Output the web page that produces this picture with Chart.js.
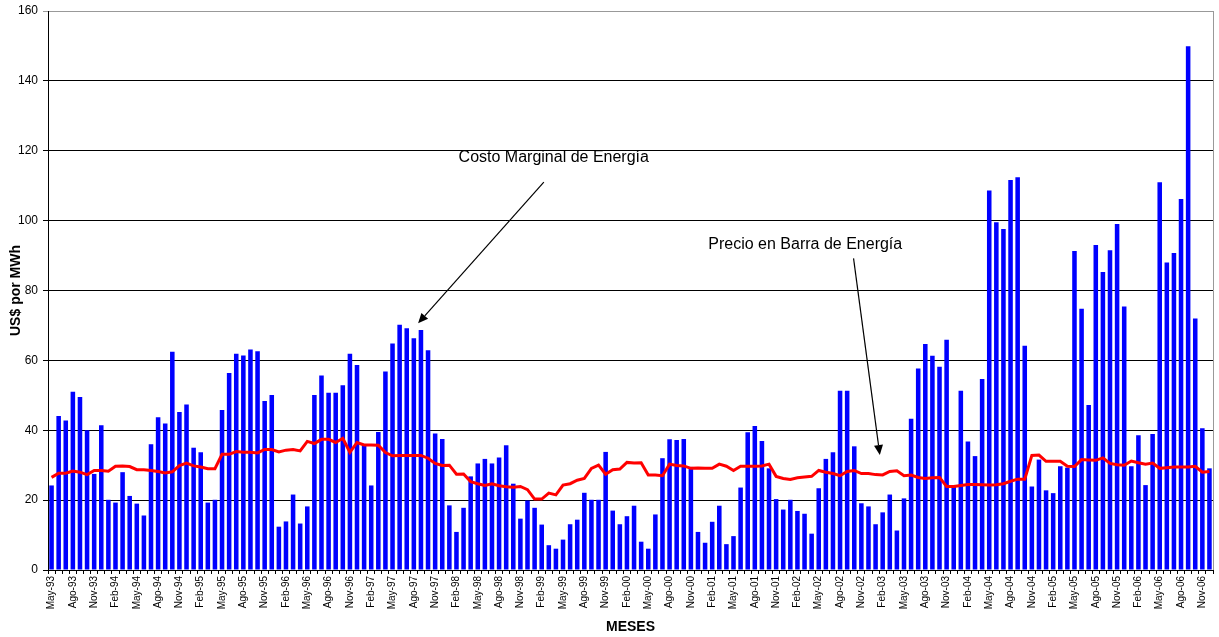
<!DOCTYPE html>
<html>
<head>
<meta charset="utf-8">
<script src="https://cdn.jsdelivr.net/npm/chart.js@4.4.1/dist/chart.umd.min.js"></script>
<style>
    html, body { margin: 0; padding: 0; background: #fff; }
    #wrap { width: 1219px; height: 637px; }
</style>
</head>
<body>
<div id="wrap"><canvas id="grafico" width="1219" height="637"></canvas></div>
<script>
// meses, May-93 a Dic-06
const meses = [
    'May-93','Jun-93','Jul-93','Ago-93','Sep-93','Oct-93','Nov-93','Dic-93',
    'Ene-94','Feb-94','Mar-94','Abr-94','May-94','Jun-94','Jul-94','Ago-94','Sep-94','Oct-94','Nov-94','Dic-94',
    'Ene-95','Feb-95','Mar-95','Abr-95','May-95','Jun-95','Jul-95','Ago-95','Sep-95','Oct-95','Nov-95','Dic-95',
    'Ene-96','Feb-96','Mar-96','Abr-96','May-96','Jun-96','Jul-96','Ago-96','Sep-96','Oct-96','Nov-96','Dic-96',
    'Ene-97','Feb-97','Mar-97','Abr-97','May-97','Jun-97','Jul-97','Ago-97','Sep-97','Oct-97','Nov-97','Dic-97',
    'Ene-98','Feb-98','Mar-98','Abr-98','May-98','Jun-98','Jul-98','Ago-98','Sep-98','Oct-98','Nov-98','Dic-98',
    'Ene-99','Feb-99','Mar-99','Abr-99','May-99','Jun-99','Jul-99','Ago-99','Sep-99','Oct-99','Nov-99','Dic-99',
    'Ene-00','Feb-00','Mar-00','Abr-00','May-00','Jun-00','Jul-00','Ago-00','Sep-00','Oct-00','Nov-00','Dic-00',
    'Ene-01','Feb-01','Mar-01','Abr-01','May-01','Jun-01','Jul-01','Ago-01','Sep-01','Oct-01','Nov-01','Dic-01',
    'Ene-02','Feb-02','Mar-02','Abr-02','May-02','Jun-02','Jul-02','Ago-02','Sep-02','Oct-02','Nov-02','Dic-02',
    'Ene-03','Feb-03','Mar-03','Abr-03','May-03','Jun-03','Jul-03','Ago-03','Sep-03','Oct-03','Nov-03','Dic-03',
    'Ene-04','Feb-04','Mar-04','Abr-04','May-04','Jun-04','Jul-04','Ago-04','Sep-04','Oct-04','Nov-04','Dic-04',
    'Ene-05','Feb-05','Mar-05','Abr-05','May-05','Jun-05','Jul-05','Ago-05','Sep-05','Oct-05','Nov-05','Dic-05',
    'Ene-06','Feb-06','Mar-06','Abr-06','May-06','Jun-06','Jul-06','Ago-06','Sep-06','Oct-06','Nov-06','Dic-06'
];

// Costo Marginal de Energia (barras), US$/MWh
const costoMarginal = [
    24.2, 44.1, 42.8, 51.0, 49.5, 40.0, 27.5, 41.4, 20.1, 19.3,
    28.0, 21.2, 19.0, 15.6, 36.0, 43.7, 41.9, 62.5, 45.2, 47.4,
    35.0, 33.7, 19.3, 20.1, 45.8, 56.4, 61.9, 61.4, 63.1, 62.6,
    48.4, 50.1, 12.4, 13.9, 21.6, 13.3, 18.2, 50.1, 55.7, 50.7,
    50.7, 52.9, 61.9, 58.7, 36.0, 24.2, 39.5, 56.8, 64.8, 70.2,
    69.2, 66.3, 68.7, 62.9, 39.1, 37.5, 18.5, 10.9, 17.8, 26.8,
    30.5, 31.8, 30.5, 32.2, 35.7, 24.7, 14.7, 19.9, 17.8, 13.0,
    7.1, 6.1, 8.7, 13.1, 14.4, 22.1, 20.1, 20.1, 33.8, 17.0,
    13.1, 15.4, 18.4, 8.1, 6.1, 15.9, 32.0, 37.4, 37.2, 37.5,
    29.5, 10.9, 7.8, 13.8, 18.4, 7.4, 9.7, 23.6, 39.4, 41.2,
    36.9, 29.1, 20.3, 17.3, 20.1, 16.9, 16.1, 10.4, 23.4, 31.8,
    33.7, 51.3, 51.3, 35.4, 19.1, 18.2, 13.1, 16.5, 21.6, 11.3,
    20.5, 43.3, 57.7, 64.7, 61.3, 58.2, 65.9, 23.9, 51.3, 36.8,
    32.6, 54.7, 108.6, 99.5, 97.6, 111.6, 112.4, 64.2, 23.9, 31.6,
    22.8, 22.0, 29.7, 29.3, 91.3, 74.8, 47.2, 93.0, 85.3, 91.5,
    99.0, 75.4, 29.7, 38.6, 24.3, 38.9, 111.0, 88.0, 90.7, 106.2,
    149.9, 72.0, 40.6, 29.1
];

// Precio en Barra de Energia (linea), US$/MWh
const precioBarra = [
    26.5, 27.7, 27.7, 28.3, 28.0, 27.3, 28.5, 28.5, 28.3, 29.7,
    29.8, 29.6, 28.7, 28.7, 28.5, 28.2, 27.8, 28.1, 29.9, 30.6,
    29.8, 29.5, 29.0, 29.0, 33.1, 33.1, 33.9, 33.7, 33.7, 33.5,
    34.5, 34.5, 33.8, 34.3, 34.5, 34.1, 36.8, 36.2, 37.4, 37.4,
    36.5, 37.7, 33.7, 36.5, 35.8, 35.8, 35.7, 33.6, 32.7, 32.8,
    32.8, 32.8, 32.8, 32.0, 30.5, 29.9, 30.0, 27.4, 27.5, 25.3,
    24.7, 24.2, 24.7, 24.1, 23.8, 23.7, 23.9, 23.0, 20.3, 20.3,
    22.0, 21.5, 24.3, 24.7, 25.7, 26.2, 29.1, 30.0, 27.4, 28.7,
    28.9, 30.8, 30.6, 30.7, 27.2, 27.2, 27.0, 30.3, 29.9, 29.8,
    29.1, 29.2, 29.1, 29.1, 30.3, 29.7, 28.5, 29.7, 29.7, 29.7,
    29.8, 30.3, 26.8, 26.2, 25.9, 26.4, 26.6, 26.8, 28.5, 28.0,
    27.6, 27.0, 28.2, 28.5, 27.6, 27.6, 27.3, 27.2, 28.2, 28.4,
    27.0, 27.2, 26.5, 26.2, 26.4, 26.5, 23.9, 23.9, 24.2, 24.5,
    24.5, 24.4, 24.3, 24.4, 24.7, 25.4, 26.0, 26.0, 32.8, 32.9,
    31.1, 31.1, 31.1, 29.7, 29.6, 31.6, 31.5, 31.4, 32.1, 30.5,
    30.1, 30.0, 31.2, 30.7, 30.3, 30.6, 29.1, 29.3, 29.5, 29.5,
    29.5, 29.7, 28.0, 28.2
];

const yMax = 160;
const yPaso = 20;

// notas con flecha, ubicadas en unidades de los ejes (indice de mes, US$/MWh)
const notas = [
    { texto: 'Costo Marginal de Energía', en: [70.7, 117.9], desde: [69.3, 111.0], hasta: [51.6, 70.6] },
    { texto: 'Precio en Barra de Energía', en: [106.1, 93.0], desde: [112.9, 89.2], hasta: [116.6, 32.9] }
];

const fuente = 'Arial, "Liberation Sans", sans-serif';

const marcoYNotas = {
    id: 'marcoYNotas',
    beforeDatasetsDraw(chart) {
        const ctx = chart.ctx;
        const a = chart.chartArea;
        ctx.save();
        ctx.strokeStyle = '#999';
        ctx.lineWidth = 1;
        ctx.beginPath();
        ctx.moveTo(Math.round(a.right) + 0.5, a.top);
        ctx.lineTo(Math.round(a.right) + 0.5, a.bottom);
        ctx.stroke();
        ctx.restore();
    },
    afterDraw(chart) {
        const ctx = chart.ctx;
        const x = chart.scales.x;
        const y = chart.scales.y;
        ctx.save();
        ctx.font = '16px ' + fuente;
        ctx.fillStyle = '#000';
        ctx.strokeStyle = '#000';
        ctx.lineWidth = 1.2;
        ctx.textAlign = 'center';
        ctx.textBaseline = 'middle';
        notas.forEach(n => {
            ctx.fillText(n.texto, x.getPixelForValue(n.en[0]), y.getPixelForValue(n.en[1]));
            const x0 = x.getPixelForValue(n.desde[0]), y0 = y.getPixelForValue(n.desde[1]);
            const x1 = x.getPixelForValue(n.hasta[0]), y1 = y.getPixelForValue(n.hasta[1]);
            const ang = Math.atan2(y1 - y0, x1 - x0);
            const largo = 10, ancho = 4.5;
            const bx = x1 - largo * Math.cos(ang), by = y1 - largo * Math.sin(ang);
            ctx.beginPath();
            ctx.moveTo(x0, y0);
            ctx.lineTo(bx, by);
            ctx.stroke();
            ctx.beginPath();
            ctx.moveTo(x1, y1);
            ctx.lineTo(bx + ancho * Math.sin(ang), by - ancho * Math.cos(ang));
            ctx.lineTo(bx - ancho * Math.sin(ang), by + ancho * Math.cos(ang));
            ctx.closePath();
            ctx.fill();
        });
        ctx.restore();
    }
};

new Chart(document.getElementById('grafico'), {
    data: {
        labels: meses,
        datasets: [
            {
                type: 'line',
                label: 'Precio en Barra de Energía',
                data: precioBarra,
                borderColor: '#FF0000',
                borderWidth: 3,
                pointRadius: 0,
                tension: 0,
                order: 0
            },
            {
                type: 'bar',
                label: 'Costo Marginal de Energía',
                data: costoMarginal,
                backgroundColor: '#0000FF',
                barPercentage: 0.64,
                categoryPercentage: 1,
                order: 1
            }
        ]
    },
    options: {
        responsive: false,
        devicePixelRatio: 1,
        animation: false,
        layout: { padding: { top: 11, right: 6, left: 0, bottom: 0 } },
        plugins: {
            legend: { display: false },
            tooltip: { enabled: false }
        },
        scales: {
            x: {
                offset: true,
                grid: { drawOnChartArea: false, drawTicks: true, tickLength: 4, color: '#000', offset: true },
                border: { color: '#000' },
                ticks: {
                    autoSkip: false,
                    maxRotation: 90,
                    minRotation: 90,
                    padding: 2,
                    color: '#000',
                    font: { family: fuente, size: 10 },
                    callback: (v, i) => (i % 3 === 0 ? meses[i] : '')
                },
                title: {
                    display: true,
                    text: 'MESES',
                    color: '#000',
                    font: { family: fuente, size: 14, weight: 'bold' },
                    padding: { top: 0, bottom: 1 }
                },
                afterFit: s => {
                    s.height = 67;
                    s.paddingRight = 0;
                    s.paddingLeft = 0;
                }
            },
            y: {
                min: 0,
                max: yMax,
                grid: {
                    color: c => (c.tick && c.tick.value === yMax ? '#999' : '#000'),
                    tickLength: 5
                },
                border: { color: '#000' },
                ticks: {
                    stepSize: yPaso,
                    padding: 5,
                    color: '#000',
                    font: { family: fuente, size: 12 }
                },
                title: {
                    display: true,
                    text: 'US$ por MWh',
                    color: '#000',
                    font: { family: fuente, size: 14, weight: 'bold' },
                    padding: { top: 8, bottom: 0 }
                },
                afterFit: s => {
                    s.width = 48;
                    s.paddingTop = 0;
                    s.paddingBottom = 0;
                }
            }
        }
    },
    plugins: [marcoYNotas]
});
</script>
</body>
</html>
